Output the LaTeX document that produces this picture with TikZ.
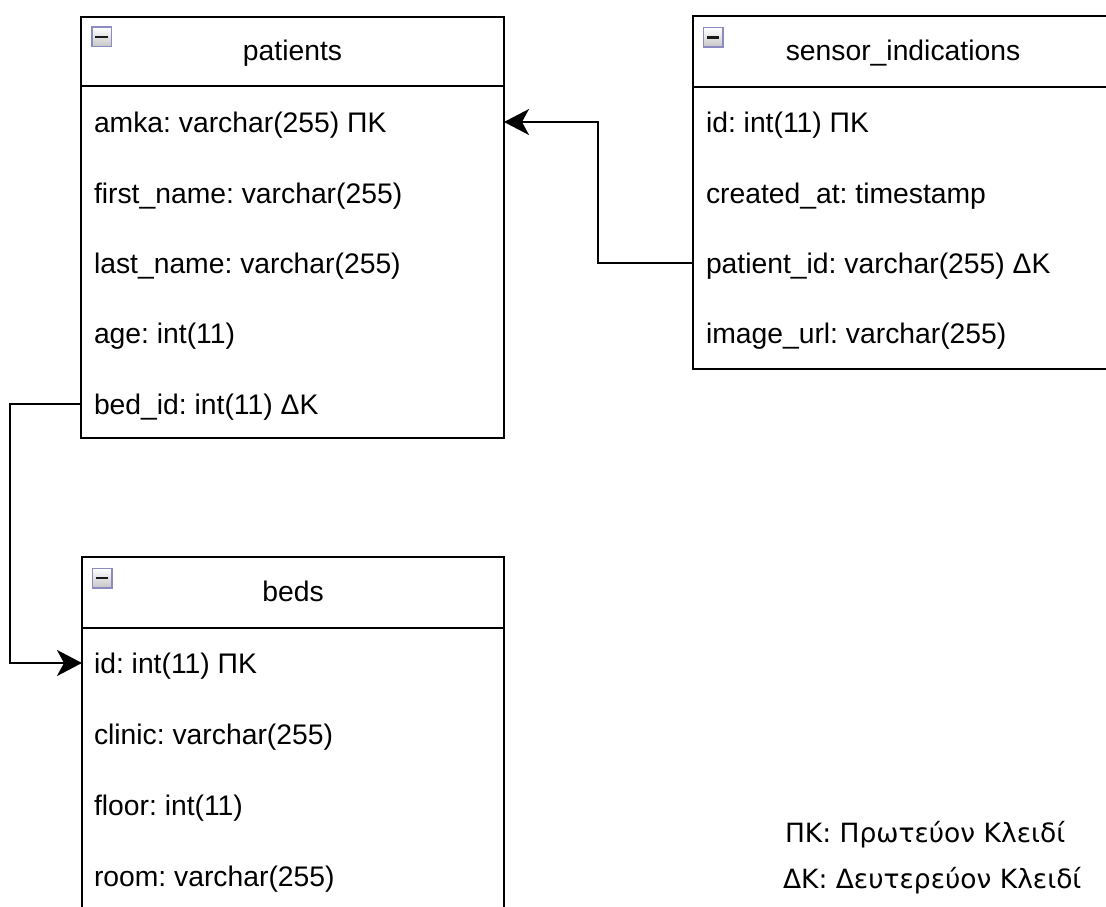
\documentclass[tikz,border=0pt]{standalone}
\usepackage{fontspec}
\setmainfont{Liberation Sans}
\newfontfamily\legendfont{DejaVu Sans}
\usetikzlibrary{arrows.meta}
\frenchspacing

\begin{document}
\begin{tikzpicture}[x=1pt,y=-1pt,
  every node/.style={inner sep=0pt,outer sep=0pt,font=\fontsize{28.3}{34}\selectfont},
  table/.style={draw=black,line width=2pt,fill=white,anchor=north west},
  sepline/.style={line width=2pt,draw=black},
  title/.style={text height=23pt,text depth=6pt,anchor=center},
  field/.style={text height=26pt,text depth=6pt,anchor=west},
  collapse/.style={draw=gray!70!blue!70,line width=1.5pt,
    top color=white,bottom color=gray!45,minimum size=19.5pt,anchor=center},
  minus/.style={line width=2.4pt,draw=black!90},
  fk/.style={line width=2pt,draw=black,-{Stealth[length=25pt,width=26pt,inset=7pt]}},
  legend/.style={anchor=base west,font=\legendfont\fontsize{26.5}{32}\selectfont}
]
\useasboundingbox (0,0) rectangle (1106,907);
\fill[white] (0,0) rectangle (1106,907);

% ---------- patients ----------
\node[table,minimum width=423pt,minimum height=421pt] (patients) at (81,17) {};
\draw[sepline] (81,86) -- (504,86);
\node[collapse] (pcol) at (101.5,37) {};
\draw[minus] ([xshift=3.5pt]pcol.west) -- ([xshift=-3.5pt]pcol.east);
\node[title] (ptitle) at (292.5,51.5) {patients};
\node[field] (pamka)  at (94,122) {amka: varchar(255) ΠΚ};
\node[field] (pfirst) at (94,193) {first\_name: varchar(255)};
\node[field] (plast)  at (94,263) {last\_name: varchar(255)};
\node[field] (page)   at (94,333) {age: int(11)};
\node[field] (pbed)   at (94,404) {bed\_id: int(11) ΔΚ};

% ---------- sensor_indications ----------
\node[table,minimum width=420pt,minimum height=352pt] (sensor) at (693,16.5) {};
\draw[sepline] (693,87) -- (1113,87);
\node[collapse] (scol) at (713,37.5) {};
\draw[minus] ([xshift=3.5pt]scol.west) -- ([xshift=-3.5pt]scol.east);
\node[title] (stitle) at (903,51.5) {sensor\_indications};
\node[field] (sid)      at (706,122) {id: int(11) ΠΚ};
\node[field] (screated) at (706,193) {created\_at: timestamp};
\node[field] (spatient) at (706,263) {patient\_id: varchar(255) ΔΚ};
\node[field] (simage)   at (706,333) {image\_url: varchar(255)};

% ---------- beds ----------
\node[table,minimum width=422pt,minimum height=400pt] (beds) at (82,557) {};
\draw[sepline] (82,628) -- (504,628);
\node[collapse] (bcol) at (102,578) {};
\draw[minus] ([xshift=3.5pt]bcol.west) -- ([xshift=-3.5pt]bcol.east);
\node[title] (btitle) at (293,592.5) {beds};
\node[field] (bid)     at (94,663) {id: int(11) ΠΚ};
\node[field] (bclinic) at (94,734) {clinic: varchar(255)};
\node[field] (bfloor)  at (94,805) {floor: int(11)};
\node[field] (broom)   at (94,876) {room: varchar(255)};

% ---------- foreign keys ----------
\draw[fk] (sensor.west |- spatient) -- ++(-95,0) |- (patients.east |- pamka);
\draw[fk] (patients.west |- pbed) -- ++(-71,0) |- (beds.west |- bid);

% ---------- legend ----------
\node[legend] (leg1) at (785,842) {ΠΚ: Πρωτεύον Κλειδί};
\node[legend] (leg2) at (783,888) {ΔΚ: Δευτερεύον Κλειδί};
\end{tikzpicture}
\end{document}
